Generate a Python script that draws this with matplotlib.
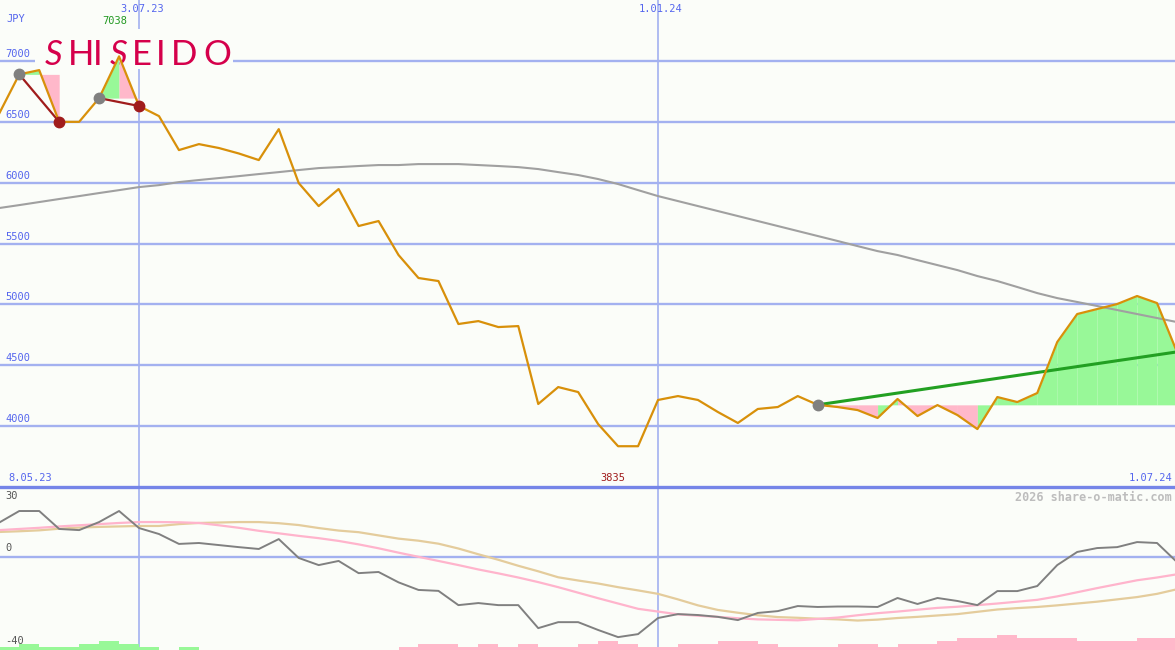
import matplotlib
matplotlib.use('Agg')
import matplotlib.pyplot as plt
from matplotlib.lines import Line2D
from matplotlib.patches import Rectangle
import numpy as np

# weekly closes (JPY), 59 weeks up to 1.07.24
close = [6570, 6890, 6925, 6500, 6500, 6695, 7038, 6630, 6547, 6268,
         6317, 6285, 6240, 6186, 6440, 5997, 5808, 5948, 5644, 5685,
         5406, 5217, 5192, 4839, 4863, 4814, 4822, 4182, 4321, 4280,
         4017, 3835, 3835, 4215, 4247, 4215, 4116, 4026, 4141, 4157,
         4247, 4175, 4157, 4132, 4067, 4223, 4083, 4173, 4091, 3976,
         4239, 4198, 4272, 4691, 4921, 4962, 5003, 5069, 5011, 4609]

# long moving average (grey)
ma_long = [5792, 5816, 5841, 5866, 5890, 5915, 5939, 5964, 5980, 6005,
           6022, 6038, 6054, 6071, 6087, 6104, 6120, 6128, 6137, 6145,
           6145, 6153, 6153, 6153, 6145, 6137, 6128, 6112, 6087, 6063,
           6030, 5989, 5939, 5890, 5849, 5808, 5767, 5726, 5685, 5644,
           5603, 5562, 5521, 5479, 5438, 5406, 5364, 5323, 5282, 5233,
           5192, 5143, 5093, 5052, 5020, 4987, 4954, 4921, 4888, 4855]

# lower panel: oscillator + two signal lines
osc = [15.0, 20.0, 20.0, 12.2, 11.7, 15.2, 20.0, 12.6, 10.0, 5.7,
       6.1, 5.2, 4.3, 3.5, 7.8, -0.4, -3.5, -1.7, -7.0, -6.5,
       -11.0, -14.3, -14.7, -20.9, -20.0, -20.9, -20.9, -30.9, -28.3, -28.3,
       -31.7, -34.8, -33.5, -26.5, -24.8, -25.2, -26.0, -27.4, -24.3, -23.5,
       -21.3, -21.7, -21.5, -21.5, -21.7, -17.8, -20.4, -17.8, -19.1, -20.9,
       -14.8, -14.8, -12.6, -3.5, 2.2, 3.9, 4.3, 6.5, 6.1, -2.2]

sig_pink = [11.7, 12.2, 12.7, 13.3, 13.8, 14.3, 14.8, 15.2, 15.2, 15.1,
            14.8, 13.8, 12.7, 11.4, 10.3, 9.2, 8.2, 7.0, 5.5, 3.8,
            1.9, 0.1, -1.7, -3.5, -5.4, -7.1, -8.9, -10.9, -13.1, -15.5,
            -17.9, -20.2, -22.5, -23.7, -24.9, -25.5, -26.0, -26.6, -27.1, -27.3,
            -27.5, -26.9, -26.3, -25.3, -24.4, -23.7, -22.9, -22.1, -21.6, -20.9,
            -20.2, -19.4, -18.6, -17.1, -15.3, -13.5, -11.8, -10.1, -8.9, -7.5]

sig_tan = [10.9, 11.2, 11.6, 12.3, 12.8, 13.1, 13.3, 13.5, 13.5, 14.3,
           14.8, 15.0, 15.2, 15.2, 14.7, 13.9, 12.6, 11.5, 10.8, 9.4,
           8.0, 7.1, 5.8, 3.7, 1.2, -1.2, -3.8, -6.2, -8.8, -10.2,
           -11.5, -13.1, -14.5, -16.0, -18.4, -21.0, -23.0, -24.2, -25.3, -26.1,
           -26.4, -26.8, -27.1, -27.6, -27.2, -26.5, -26.0, -25.4, -24.8, -23.8,
           -22.8, -22.2, -21.7, -21.0, -20.2, -19.4, -18.4, -17.4, -16.0, -14.0]

hist = [1.3, 2.6, 1.3, 1.3, 2.6, 3.9, 2.6, 1.3, 0, 1.3,
        0, 0, 0, 0, 0, 0, 0, 0, 0, 0,
        -1.3, -2.6, -2.6, -1.3, -2.6, -1.3, -2.6, -1.3, -1.3, -2.6,
        -3.9, -2.6, -1.3, -1.3, -2.6, -2.6, -3.9, -3.9, -2.6, -1.3,
        -1.3, -1.3, -2.6, -2.6, -1.3, -2.6, -2.6, -3.9, -5.2, -5.2,
        -6.5, -5.2, -5.2, -5.2, -3.9, -3.9, -3.9, -5.2, -5.2, -5.2]

price_ticks = [4000, 4500, 5000, 5500, 6000, 6500, 7000]
date_marks = [(7, '3.07.23'), (33, '1.01.24')]
first_date, last_date = '8.05.23', '1.07.24'

# (start week, end week, colour per segment) for the shaded runs
fill_runs = [(1, 3, 'gp'), (5, 7, 'gp'), (41, 59, 'pppgppppg' + 'g' * 9)]
red_links = [(1, 3), (5, 7)]
grey_dots = [1, 5, 41]
red_dots = [3, 7]
trend_start, trend_end = 41, 4610

W, H = 1175, 650
bg = '#fbfdf9'
blue_grid = '#a3b1f0'
blue_txt = '#5566ee'
mono = 'DejaVu Sans Mono'

fig = plt.figure(figsize=(W / 100, H / 100), dpi=100)
fig.patch.set_facecolor(bg)
ax = fig.add_axes([0, 163 / H, 1, 487 / H])
ax2 = fig.add_axes([0, 0, 1, 162 / H])
x = np.arange(len(close))
for a in (ax, ax2):
    a.set_xlim(0.035, 58.9)
    a.axis('off')
    for k, _ in date_marks:
        a.axvline(k, color=blue_grid, lw=1.2, zorder=1)
ax.set_ylim(3500, 7501)
ax2.set_ylim(-40.4, 30)

"""
upper panel
"""
for v in price_ticks:
    ax.axhline(v, color=blue_grid, lw=1.7, zorder=1)
    ax.annotate(str(v), xy=(0, v), xycoords=('axes fraction', 'data'),
                xytext=(5, 2), textcoords='offset pixels', va='bottom',
                fontsize=7.5, family=mono, color=blue_txt)

# company logo: plain backdrop over the grid (under the data), then spaced letters
ax.add_patch(Rectangle((35 / W, 1 - 69 / H), 198 / W, 40 / H, transform=fig.transFigure,
                       facecolor=bg, edgecolor='none', zorder=1.5, clip_on=False))
logo = [('S', 54, 'italic'), ('H', 81, 'normal'), ('I', 98, 'normal'), ('S', 119, 'italic'),
        ('E', 142, 'normal'), ('I', 161, 'normal'), ('D', 184, 'normal'), ('O', 217, 'normal')]
for ch, px, st in logo:
    ax.text(px / W, 1 - 65 / H, ch, transform=fig.transFigure, ha='center', va='baseline',
            fontsize=25, family='Lato', style=st, color='#d5004b', zorder=1.6, clip_on=False)

cols = {'g': '#98f898', 'p': '#ffb8ca'}
for s, e, cc in fill_runs:
    level = close[s]
    for j in range(s, e):
        ax.fill_between([j, j + 1], [close[j], close[j + 1]], level,
                        color=cols[cc[j - s]], lw=0, interpolate=True, zorder=2)

ax.plot(x, ma_long, color='#a0a0a0', lw=1.5, zorder=3)
ax.plot([trend_start, x[-1]], [close[trend_start], trend_end], color='#22a022', lw=2.2, zorder=4)
for a_, b_ in red_links:
    ax.plot([a_, b_], [close[a_], close[b_]], color='#a01c1c', lw=1.6, zorder=4)
ax.plot(x, close, color='#d8900a', lw=1.6, zorder=5)
for k in grey_dots:
    ax.plot(k, close[k], 'o', ms=7.5, color='#808080', zorder=6)
for k in red_dots:
    ax.plot(k, close[k], 'o', ms=7.5, color='#a01c1c', zorder=6)

for k, lab in date_marks:
    ax.annotate(lab, xy=(k, 1), xycoords=('data', 'axes fraction'), xytext=(3, -4),
                textcoords='offset pixels', ha='center', va='top',
                fontsize=7.5, family=mono, color=blue_txt)
kmax = int(np.argmax(close))
ax.annotate(str(close[kmax]), xy=(kmax, 1), xycoords=('data', 'axes fraction'),
            xytext=(-4, -16), textcoords='offset pixels', ha='center', va='top',
            fontsize=7.5, family=mono, color='#229922')
kmin = int(np.argmin(close))
ax.annotate(str(close[kmin]), xy=(kmin, 0), xycoords=('data', 'axes fraction'),
            xytext=(-5, 4), textcoords='offset pixels', ha='center', va='bottom',
            fontsize=7.5, family=mono, color='#a01c1c')
ax.annotate(first_date, xy=(0, 0), xycoords='axes fraction', xytext=(8, 4),
            textcoords='offset pixels', va='bottom', fontsize=7.5, family=mono, color=blue_txt)
ax.annotate(last_date, xy=(1, 0), xycoords='axes fraction', xytext=(-3, 4),
            textcoords='offset pixels', ha='right', va='bottom', fontsize=7.5, family=mono, color=blue_txt)
fig.text(6 / W, 1 - 14 / H, 'JPY', va='top', fontsize=7.5, family=mono, color=blue_txt)

# separator between panels
fig.add_artist(Line2D([0, 1], [163 / H, 163 / H], color='#7585e8', lw=2.4))

"""
lower panel
"""
ax2.axhline(0, color=blue_grid, lw=1.7, zorder=1)
bar_cols = ['#98f898' if h > 0 else '#ffb8ca' for h in hist]
ax2.bar(x, np.abs(hist), bottom=-40.4, width=1, align='edge', color=bar_cols, lw=0, zorder=2)
ax2.plot(x, sig_tan, color='#e4cc9c', lw=1.6, zorder=3)
ax2.plot(x, sig_pink, color='#ffb4cc', lw=1.6, zorder=3)
ax2.plot(x, osc, color='#808080', lw=1.4, zorder=4)

ax2.annotate('30', xy=(0, 1), xycoords='axes fraction', xytext=(5, -3),
             textcoords='offset pixels', va='top', fontsize=7.5, family=mono, color='#555555')
ax2.annotate('0', xy=(0, 0), xycoords=('axes fraction', 'data'), xytext=(5, 4),
             textcoords='offset pixels', va='bottom', fontsize=7.5, family=mono, color='#555555')
ax2.annotate('-40', xy=(0, 0), xycoords='axes fraction', xytext=(5, 4),
             textcoords='offset pixels', va='bottom', fontsize=7.5, family=mono, color='#555555')
ax2.annotate('2026 share-o-matic.com', xy=(1, 1), xycoords='axes fraction', xytext=(-3, -3),
             textcoords='offset pixels', ha='right', va='top', fontsize=8.5, family=mono,
             fontweight='bold', color='#bdbdbd')

fig.savefig('out.png', dpi=100, facecolor=bg)
